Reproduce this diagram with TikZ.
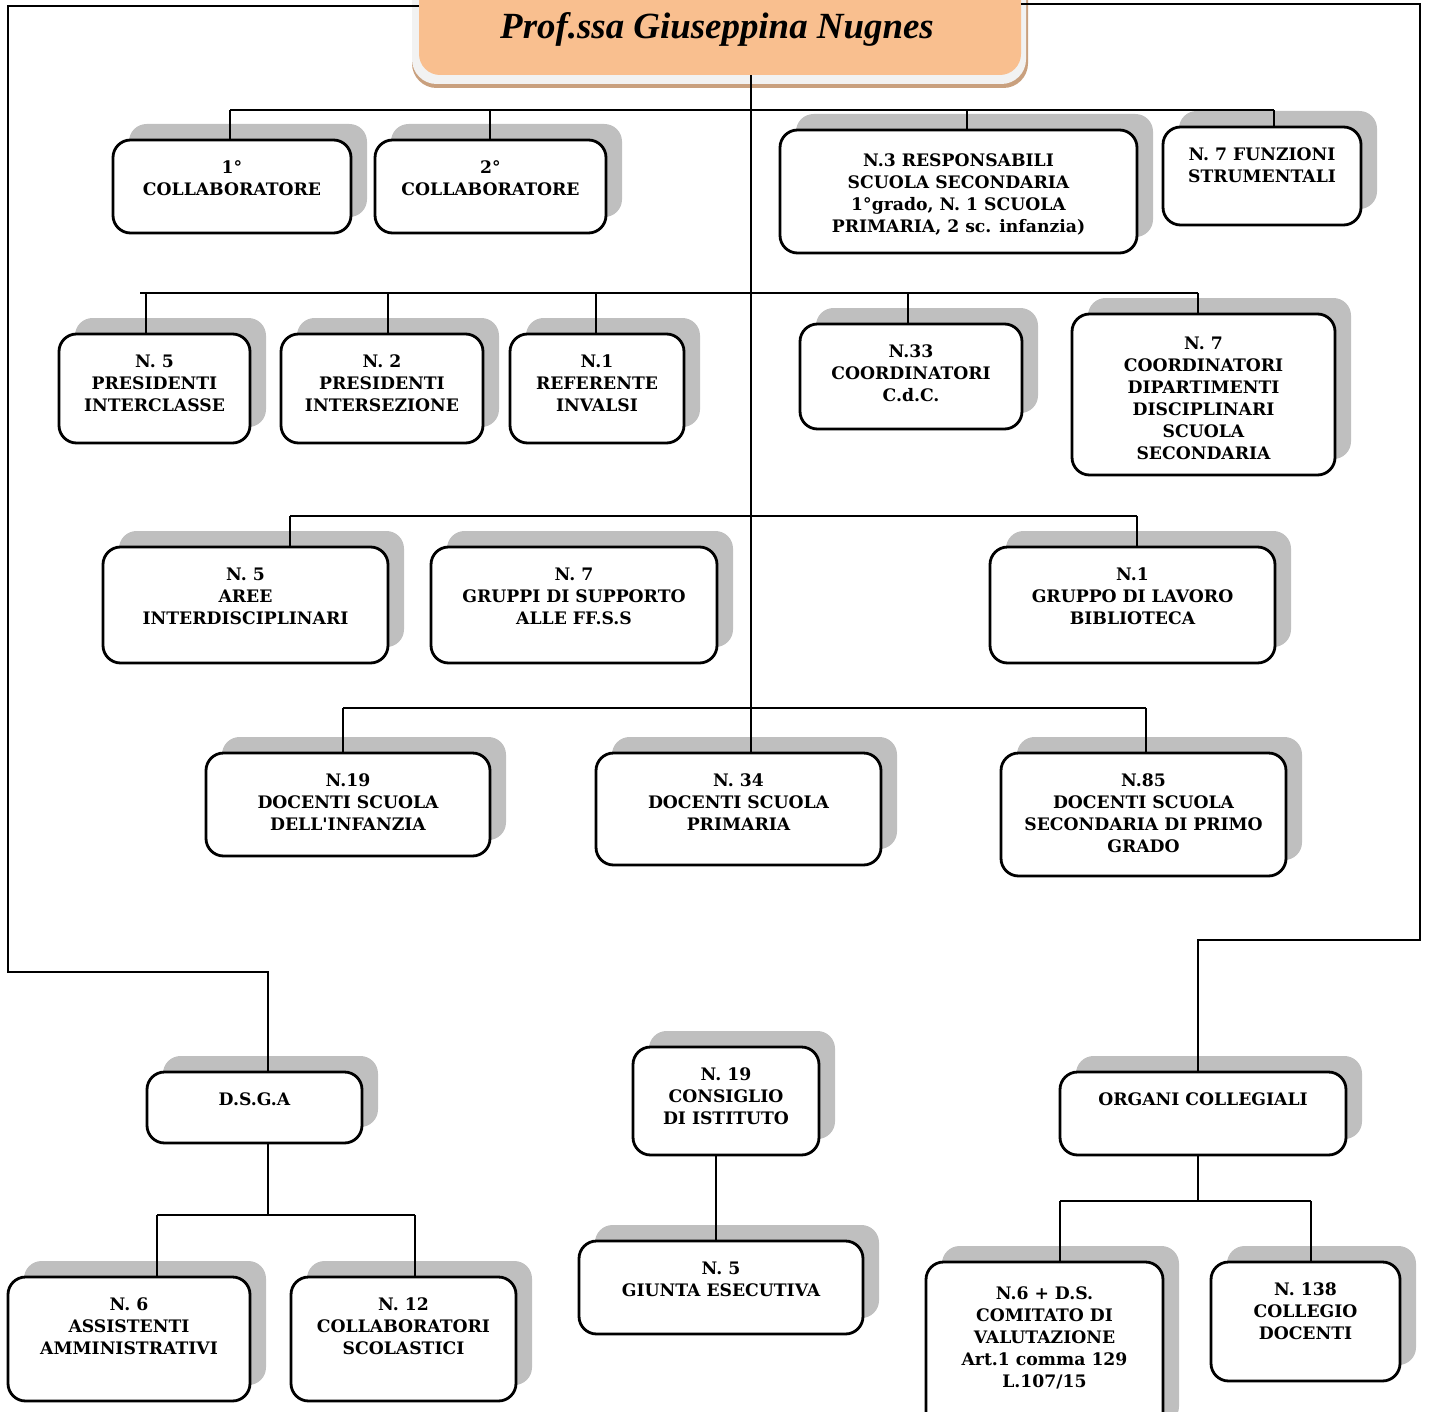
\documentclass[tikz,border=0pt]{standalone}
\usepackage{fontspec}
\setmainfont{DejaVu Serif}
\newfontfamily\titlefont{Liberation Serif}
\usepackage{tikz}
\usepackage{xcolor}
\usetikzlibrary{calc}
\usetikzlibrary{fit}
\usetikzlibrary{shadows}

\definecolor{peach}{RGB}{249,191,143}
\definecolor{frame}{RGB}{242,242,242}
\definecolor{tan}{RGB}{201,160,126}
\definecolor{shade}{RGB}{191,191,191}

\tikzset{
  box/.style={draw, line width=1.6pt, rounded corners=10pt, fill=white, inner sep=0pt,
    drop shadow={shadow xshift=0.32cm, shadow yshift=0.32cm, fill=shade, opacity=1}},
  txt/.style={anchor=north, inner sep=0pt, align=center, yshift=-0.44cm,
    font=\bfseries\fontsize{9.8}{12.5}\selectfont},
  link/.style={line width=1.3pt}
}

\begin{document}
\begin{tikzpicture}[x=0.02cm, y=-0.02cm]
\useasboundingbox (0,0) rectangle (1429,1412);
% title
\fill[tan, rounded corners=14pt] (412,-40) rectangle (1028,88);
\fill[frame, rounded corners=14pt] (412,-40) rectangle (1026,84);
\node[fill=peach, rounded corners=12pt, inner sep=0pt, fit={(419,-40) (1021,75)}] (title) {};
\node[font=\titlefont\bfseries\itshape\fontsize{21}{24}\selectfont, inner sep=0pt] (name) at (717,29) {Prof.ssa Giuseppina Nugnes};

% first row
\node[box, fit={(113,140) (351,233)}, label={[txt]north:{1°\\COLLABORATORE}}] (coll1) {};
\node[box, fit={(375,140) (606,233)}, label={[txt]north:{2°\\COLLABORATORE}}] (coll2) {};
\node[box, fit={(780,130) (1137,253)}, label={[txt, yshift=-0.05cm]north:{N.3 RESPONSABILI\\SCUOLA SECONDARIA\\1°grado, N. 1 SCUOLA\\PRIMARIA, 2 sc. infanzia)}}] (resp) {};
\node[box, fit={(1163,127) (1361,225)}, label={[txt]north:{N. 7 FUNZIONI\\STRUMENTALI}}] (funz) {};

% second row
\node[box, fit={(59,334) (250,443)}, label={[txt]north:{N. 5\\PRESIDENTI\\INTERCLASSE}}] (inclas) {};
\node[box, fit={(281,334) (483,443)}, label={[txt]north:{N. 2\\PRESIDENTI\\INTERSEZIONE}}] (insez) {};
\node[box, fit={(510,334) (684,443)}, label={[txt]north:{N.1\\REFERENTE\\INVALSI}}] (invalsi) {};
\node[box, fit={(800,324) (1022,429)}, label={[txt]north:{N.33\\COORDINATORI\\C.d.C.}}] (cdc) {};
\node[box, fit={(1072,314) (1335,475)}, label={[txt, yshift=-0.04cm]north:{N. 7\\COORDINATORI\\DIPARTIMENTI\\DISCIPLINARI\\SCUOLA\\SECONDARIA}}] (dipart) {};

% third row
\node[box, fit={(103,547) (388,663)}, label={[txt]north:{N. 5\\AREE\\INTERDISCIPLINARI}}] (aree) {};
\node[box, fit={(431,547) (717,663)}, label={[txt]north:{N. 7\\GRUPPI DI SUPPORTO\\ALLE FF.S.S}}] (gruppi) {};
\node[box, fit={(990,547) (1275,663)}, label={[txt]north:{N.1\\GRUPPO DI LAVORO\\BIBLIOTECA}}] (biblio) {};

% fourth row
\node[box, fit={(206,753) (490,856)}, label={[txt]north:{N.19\\DOCENTI SCUOLA\\DELL\textquotesingle INFANZIA}}] (infanzia) {};
\node[box, fit={(596,753) (881,865)}, label={[txt]north:{N. 34\\DOCENTI SCUOLA\\PRIMARIA}}] (primaria) {};
\node[box, fit={(1001,753) (1286,876)}, label={[txt]north:{N.85\\DOCENTI SCUOLA\\SECONDARIA DI PRIMO\\GRADO}}] (second) {};

% bottom part
\node[box, fit={(147,1072) (362,1143)}, label={[txt]north:{D.S.G.A}}] (dsga) {};
\node[box, fit={(8,1277) (250,1401)}, label={[txt]north:{N. 6\\ASSISTENTI\\AMMINISTRATIVI}}] (assist) {};
\node[box, fit={(291,1277) (516,1401)}, label={[txt]north:{N. 12\\COLLABORATORI\\SCOLASTICI}}] (collsc) {};
\node[box, fit={(633,1047) (819,1155)}, label={[txt]north:{N. 19\\CONSIGLIO\\DI ISTITUTO}}] (consiglio) {};
\node[box, fit={(579,1241) (863,1334)}, label={[txt]north:{N. 5\\GIUNTA ESECUTIVA}}] (giunta) {};
\node[box, fit={(1060,1072) (1346,1155)}, label={[txt]north:{ORGANI COLLEGIALI}}] (organi) {};
\node[box, fit={(926,1262) (1163,1440)}, label={[txt, yshift=-0.08cm]north:{N.6 + D.S.\\COMITATO DI\\VALUTAZIONE\\Art.1 comma 129\\L.107/15}}] (comitato) {};
\node[box, fit={(1211,1262) (1400,1381)}, label={[txt]north:{N. 138\\COLLEGIO\\DOCENTI}}] (collegio) {};

% main line
\draw[link] (title.south -| 751,0) -- (primaria.north -| 751,0);
\draw[link] (230,110) -- (1274,110);
\draw[link] (230,110) -- (coll1.north -| 230,0);
\draw[link] (490,110) -- (coll2.north -| 490,0);
\draw[link] (967,110) -- (resp.north -| 967,0);
\draw[link] (1274,110) -- (funz.north -| 1274,0);
\draw[link] (140,293) -- (1198,293);
\draw[link] (146,293) -- (inclas.north -| 146,0);
\draw[link] (388,293) -- (insez.north -| 388,0);
\draw[link] (596,293) -- (invalsi.north -| 596,0);
\draw[link] (908,293) -- (cdc.north -| 908,0);
\draw[link] (1198,293) -- (dipart.north -| 1198,0);
\draw[link] (290,516) -- (1137,516);
\draw[link] (290,516) -- (aree.north -| 290,0);
\draw[link] (1137,516) -- (biblio.north -| 1137,0);
\draw[link] (343,708) -- (1146,708);
\draw[link] (343,708) -- (infanzia.north -| 343,0);
\draw[link] (1146,708) -- (second.north -| 1146,0);

% side lines
\draw[link] (title.west |- 0,6) -- (8,6) -- (8,972) -- (268,972) -- (dsga.north -| 268,0);
\draw[link] (title.east |- 0,4) -- (1420,4) -- (1420,940) -- (1198,940) -- (organi.north -| 1198,0);
\draw[link] (dsga.south -| 268,0) -- (268,1215);
\draw[link] (157,1215) -- (415,1215);
\draw[link] (157,1215) -- (assist.north -| 157,0);
\draw[link] (415,1215) -- (collsc.north -| 415,0);
\draw[link] (consiglio.south -| 716,0) -- (giunta.north -| 716,0);
\draw[link] (organi.south -| 1198,0) -- (1198,1201);
\draw[link] (1060,1201) -- (1311,1201);
\draw[link] (1060,1201) -- (comitato.north -| 1060,0);
\draw[link] (1311,1201) -- (collegio.north -| 1311,0);
\end{tikzpicture}
\end{document}
